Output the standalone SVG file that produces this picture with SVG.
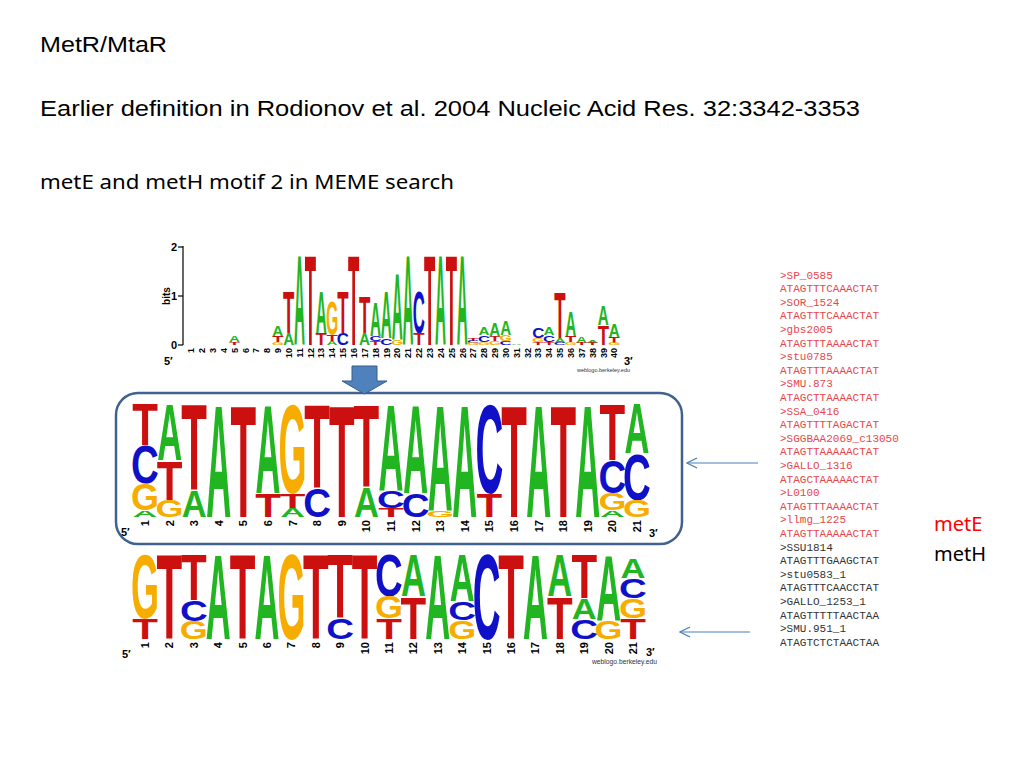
<svg xmlns="http://www.w3.org/2000/svg" width="1024" height="768" viewBox="0 0 1024 768">
<style>
.bg{fill:#ffffff}
.ttl{font-family:"Liberation Sans",Arial,sans-serif;font-size:22px;fill:#000}
.sub{font-family:"Noto Sans","Open Sans",sans-serif;font-size:20px;fill:#000}
.lg text{font-family:"Liberation Sans",Arial,sans-serif;font-weight:bold;font-size:100px;text-anchor:middle}
.a{fill:#22b522}
.t{fill:#cc0f0f}
.c{fill:#1010c8}
.g{fill:#f7ad00}
.num{font-family:"Liberation Sans",Arial,sans-serif;font-weight:bold;fill:#000;text-anchor:end}
.n9{font-size:9px}
.n11{font-size:11px}
.end{font-family:"Liberation Sans",Arial,sans-serif;font-weight:bold;font-size:11px;fill:#000}
.wl{font-family:"Liberation Sans",Arial,sans-serif;font-size:6px;fill:#333}
.seq{font-family:"Liberation Mono","Courier New",monospace;font-size:11px}
.red{fill:#e8464b}
.blk{fill:#333333}
.lbl{font-family:"Noto Sans","Open Sans",sans-serif;font-size:20px}
.conn{stroke:#4a7ebb;stroke-width:1.2;fill:none}
</style>
<defs>
<marker id="ah" viewBox="0 0 12 12" refX="11" refY="6" markerWidth="12" markerHeight="12" markerUnits="userSpaceOnUse" orient="auto">
<path d="M1,1 L11,6 L1,11" fill="none" stroke="#4a7ebb" stroke-width="1.2"/>
</marker>
</defs>
<rect class="bg" x="0" y="0" width="1024" height="768"/>

<g id="title">
<text class="ttl" x="40" y="52" textLength="127" lengthAdjust="spacingAndGlyphs">MetR/MtaR</text>
<text class="ttl" x="40" y="116" textLength="820" lengthAdjust="spacingAndGlyphs">Earlier definition in Rodionov et al. 2004 Nucleic Acid Res. 32:3342-3353</text>
<text class="sub" x="40" y="189" textLength="414" lengthAdjust="spacingAndGlyphs">metE and metH motif 2 in MEME search</text>
</g>

<g id="logo-all">
<line x1="183" y1="246" x2="183" y2="345" stroke="#000" stroke-width="1.2"/>
<line x1="178" y1="247" x2="183" y2="247" stroke="#000" stroke-width="1.2"/>
<line x1="178" y1="296" x2="183" y2="296" stroke="#000" stroke-width="1.2"/>
<line x1="178" y1="345" x2="183" y2="345" stroke="#000" stroke-width="1.2"/>
<text class="num n11" x="177" y="251">2</text>
<text class="num n11" x="177" y="300">1</text>
<text class="num n11" x="177" y="349">0</text>
<text class="end" style="font-size:10px;text-anchor:middle" transform="translate(170,296) rotate(-90)">bits</text>
<text class="end" x="164" y="365">5′</text>
<text class="end" x="624" y="365">3′</text>
<text class="wl" x="577" y="372" textLength="53" lengthAdjust="spacingAndGlyphs">weblogo.berkeley.edu</text>
<g class="num n9">
<text transform="translate(194.2,348) rotate(-90)">1</text>
<text transform="translate(205.0,348) rotate(-90)">2</text>
<text transform="translate(215.9,348) rotate(-90)">3</text>
<text transform="translate(226.8,348) rotate(-90)">4</text>
<text transform="translate(237.6,348) rotate(-90)">5</text>
<text transform="translate(248.5,348) rotate(-90)">6</text>
<text transform="translate(259.3,348) rotate(-90)">7</text>
<text transform="translate(270.2,348) rotate(-90)">8</text>
<text transform="translate(281.0,348) rotate(-90)">9</text>
<text transform="translate(291.9,348) rotate(-90)">10</text>
<text transform="translate(302.7,348) rotate(-90)">11</text>
<text transform="translate(313.6,348) rotate(-90)">12</text>
<text transform="translate(324.4,348) rotate(-90)">13</text>
<text transform="translate(335.3,348) rotate(-90)">14</text>
<text transform="translate(346.1,348) rotate(-90)">15</text>
<text transform="translate(357.0,348) rotate(-90)">16</text>
<text transform="translate(367.8,348) rotate(-90)">17</text>
<text transform="translate(378.7,348) rotate(-90)">18</text>
<text transform="translate(389.5,348) rotate(-90)">19</text>
<text transform="translate(400.4,348) rotate(-90)">20</text>
<text transform="translate(411.2,348) rotate(-90)">21</text>
<text transform="translate(422.1,348) rotate(-90)">22</text>
<text transform="translate(432.9,348) rotate(-90)">23</text>
<text transform="translate(443.8,348) rotate(-90)">24</text>
<text transform="translate(454.6,348) rotate(-90)">25</text>
<text transform="translate(465.5,348) rotate(-90)">26</text>
<text transform="translate(476.3,348) rotate(-90)">27</text>
<text transform="translate(487.2,348) rotate(-90)">28</text>
<text transform="translate(498.0,348) rotate(-90)">29</text>
<text transform="translate(508.9,348) rotate(-90)">30</text>
<text transform="translate(519.7,348) rotate(-90)">31</text>
<text transform="translate(530.6,348) rotate(-90)">32</text>
<text transform="translate(541.4,348) rotate(-90)">33</text>
<text transform="translate(552.3,348) rotate(-90)">34</text>
<text transform="translate(563.1,348) rotate(-90)">35</text>
<text transform="translate(574.0,348) rotate(-90)">36</text>
<text transform="translate(584.8,348) rotate(-90)">37</text>
<text transform="translate(595.7,348) rotate(-90)">38</text>
<text transform="translate(606.5,348) rotate(-90)">39</text>
<text transform="translate(617.4,348) rotate(-90)">40</text>
</g>
<g class="lg">
<text class="a" transform="translate(234.4,342) scale(0.152,0.098)">A</text>
<text class="t" transform="translate(234.4,345) scale(0.185,0.042)">T</text>
<text class="a" transform="translate(277.8,336) scale(0.152,0.154)">A</text>
<text class="t" transform="translate(277.8,342) scale(0.185,0.084)">T</text>
<text class="g" transform="translate(277.8,345) scale(0.158,0.042)">G</text>
<text class="t" transform="translate(288.65,333) scale(0.185,0.587)">T</text>
<text class="a" transform="translate(288.65,345) scale(0.152,0.168)">A</text>
<text class="a" transform="translate(299.5,345) scale(0.152,1.285)">A</text>
<text class="t" transform="translate(310.35,345) scale(0.185,1.285)">T</text>
<text class="a" transform="translate(321.2,333) scale(0.152,0.601)">A</text>
<text class="t" transform="translate(321.2,345) scale(0.185,0.168)">T</text>
<text class="g" transform="translate(332.05,335) scale(0.158,0.489)">G</text>
<text class="t" transform="translate(332.05,341) scale(0.185,0.084)">T</text>
<text class="a" transform="translate(332.05,345) scale(0.152,0.056)">A</text>
<text class="t" transform="translate(342.9,333) scale(0.185,0.601)">T</text>
<text class="c" transform="translate(342.9,345) scale(0.168,0.168)">C</text>
<text class="t" transform="translate(353.75,345) scale(0.185,1.285)">T</text>
<text class="t" transform="translate(364.6,333) scale(0.185,0.517)">T</text>
<text class="a" transform="translate(364.6,345) scale(0.152,0.168)">A</text>
<text class="a" transform="translate(375.45,336) scale(0.152,0.489)">A</text>
<text class="c" transform="translate(375.45,341) scale(0.168,0.070)">C</text>
<text class="t" transform="translate(375.45,345) scale(0.185,0.056)">T</text>
<text class="a" transform="translate(386.3,338) scale(0.152,0.670)">A</text>
<text class="c" transform="translate(386.3,345) scale(0.168,0.098)">C</text>
<text class="a" transform="translate(397.15,340) scale(0.152,0.950)">A</text>
<text class="g" transform="translate(397.15,345) scale(0.158,0.070)">G</text>
<text class="a" transform="translate(408,345) scale(0.152,1.285)">A</text>
<text class="c" transform="translate(418.85,333) scale(0.168,0.601)">C</text>
<text class="t" transform="translate(418.85,345) scale(0.185,0.168)">T</text>
<text class="t" transform="translate(429.7,345) scale(0.185,1.285)">T</text>
<text class="a" transform="translate(440.55,345) scale(0.152,1.285)">A</text>
<text class="t" transform="translate(451.4,345) scale(0.185,1.285)">T</text>
<text class="a" transform="translate(462.25,345) scale(0.152,1.285)">A</text>
<text class="t" transform="translate(473.1,341) scale(0.185,0.042)">T</text>
<text class="c" transform="translate(473.1,343) scale(0.168,0.028)">C</text>
<text class="g" transform="translate(473.1,345) scale(0.158,0.028)">G</text>
<text class="a" transform="translate(483.95,335) scale(0.152,0.112)">A</text>
<text class="c" transform="translate(483.95,342) scale(0.168,0.098)">C</text>
<text class="g" transform="translate(483.95,345) scale(0.158,0.042)">G</text>
<text class="a" transform="translate(494.8,336) scale(0.152,0.182)">A</text>
<text class="t" transform="translate(494.8,341) scale(0.185,0.070)">T</text>
<text class="g" transform="translate(494.8,345) scale(0.158,0.056)">G</text>
<text class="a" transform="translate(505.65,335) scale(0.152,0.209)">A</text>
<text class="g" transform="translate(505.65,341) scale(0.158,0.084)">G</text>
<text class="c" transform="translate(505.65,345) scale(0.168,0.056)">C</text>
<text class="a" transform="translate(516.5,345) scale(0.152,0.014)">A</text>
<text class="c" transform="translate(538.2,338) scale(0.168,0.154)">C</text>
<text class="g" transform="translate(538.2,342) scale(0.158,0.056)">G</text>
<text class="t" transform="translate(538.2,345) scale(0.185,0.042)">T</text>
<text class="a" transform="translate(549.05,335) scale(0.152,0.112)">A</text>
<text class="c" transform="translate(549.05,342) scale(0.168,0.098)">C</text>
<text class="t" transform="translate(549.05,345) scale(0.185,0.042)">T</text>
<text class="t" transform="translate(559.9,338) scale(0.185,0.642)">T</text>
<text class="a" transform="translate(559.9,343) scale(0.152,0.070)">A</text>
<text class="c" transform="translate(559.9,345) scale(0.168,0.028)">C</text>
<text class="a" transform="translate(570.75,336) scale(0.152,0.349)">A</text>
<text class="t" transform="translate(570.75,342) scale(0.185,0.084)">T</text>
<text class="g" transform="translate(570.75,345) scale(0.158,0.042)">G</text>
<text class="a" transform="translate(581.6,343) scale(0.152,0.098)">A</text>
<text class="t" transform="translate(581.6,345) scale(0.185,0.028)">T</text>
<text class="a" transform="translate(592.45,343) scale(0.152,0.028)">A</text>
<text class="t" transform="translate(592.45,345) scale(0.185,0.028)">T</text>
<text class="a" transform="translate(603.3,325) scale(0.152,0.279)">A</text>
<text class="t" transform="translate(603.3,345) scale(0.185,0.279)">T</text>
<text class="a" transform="translate(614.15,337) scale(0.152,0.182)">A</text>
<text class="t" transform="translate(614.15,343) scale(0.185,0.084)">T</text>
<text class="g" transform="translate(614.15,345) scale(0.158,0.028)">G</text>
</g>
</g>

<g id="logo-metE">
<rect x="116" y="393" width="566" height="151" rx="22" ry="22" fill="none" stroke="#41628f" stroke-width="2.5"/>
<text class="end" x="121" y="536">5′</text>
<text class="end" x="649" y="537">3′</text>
<g class="num n11">
<text transform="translate(149,520) rotate(-90)">1</text>
<text transform="translate(173.6,520) rotate(-90)">2</text>
<text transform="translate(198.2,520) rotate(-90)">3</text>
<text transform="translate(222.8,520) rotate(-90)">4</text>
<text transform="translate(247.4,520) rotate(-90)">5</text>
<text transform="translate(272,520) rotate(-90)">6</text>
<text transform="translate(296.6,520) rotate(-90)">7</text>
<text transform="translate(321.2,520) rotate(-90)">8</text>
<text transform="translate(345.8,520) rotate(-90)">9</text>
<text transform="translate(370.4,520) rotate(-90)">10</text>
<text transform="translate(395,520) rotate(-90)">11</text>
<text transform="translate(419.6,520) rotate(-90)">12</text>
<text transform="translate(444.2,520) rotate(-90)">13</text>
<text transform="translate(468.8,520) rotate(-90)">14</text>
<text transform="translate(493.4,520) rotate(-90)">15</text>
<text transform="translate(518,520) rotate(-90)">16</text>
<text transform="translate(542.6,520) rotate(-90)">17</text>
<text transform="translate(567.2,520) rotate(-90)">18</text>
<text transform="translate(591.8,520) rotate(-90)">19</text>
<text transform="translate(616.4,520) rotate(-90)">20</text>
<text transform="translate(641,520) rotate(-90)">21</text>
</g>
<g class="lg">
<text class="t" transform="translate(145,445) scale(0.42,0.587)">T</text>
<text class="c" transform="translate(145,483) scale(0.385,0.531)">C</text>
<text class="g" transform="translate(145,510) scale(0.36,0.377)">G</text>
<text class="a" transform="translate(145,517) scale(0.345,0.098)">A</text>
<text class="a" transform="translate(169.6,460) scale(0.345,0.796)">A</text>
<text class="t" transform="translate(169.6,500) scale(0.42,0.559)">T</text>
<text class="g" transform="translate(169.6,517) scale(0.36,0.237)">G</text>
<text class="t" transform="translate(194.2,490) scale(0.42,1.215)">T</text>
<text class="a" transform="translate(194.2,517) scale(0.345,0.377)">A</text>
<text class="a" transform="translate(218.8,517) scale(0.345,1.592)">A</text>
<text class="t" transform="translate(243.4,517) scale(0.42,1.592)">T</text>
<text class="a" transform="translate(268,493) scale(0.345,1.257)">A</text>
<text class="t" transform="translate(268,517) scale(0.42,0.335)">T</text>
<text class="g" transform="translate(292.6,493) scale(0.36,1.257)">G</text>
<text class="t" transform="translate(292.6,508) scale(0.42,0.209)">T</text>
<text class="a" transform="translate(292.6,517) scale(0.345,0.126)">A</text>
<text class="t" transform="translate(317.2,488) scale(0.42,1.187)">T</text>
<text class="c" transform="translate(317.2,517) scale(0.385,0.405)">C</text>
<text class="t" transform="translate(341.8,517) scale(0.42,1.592)">T</text>
<text class="t" transform="translate(366.4,487) scale(0.42,1.173)">T</text>
<text class="a" transform="translate(366.4,517) scale(0.345,0.419)">A</text>
<text class="a" transform="translate(391,491) scale(0.345,1.229)">A</text>
<text class="c" transform="translate(391,508) scale(0.385,0.237)">C</text>
<text class="t" transform="translate(391,517) scale(0.42,0.126)">T</text>
<text class="a" transform="translate(415.6,493) scale(0.345,1.257)">A</text>
<text class="c" transform="translate(415.6,517) scale(0.385,0.335)">C</text>
<text class="a" transform="translate(440.2,510) scale(0.345,1.494)">A</text>
<text class="g" transform="translate(440.2,517) scale(0.36,0.098)">G</text>
<text class="a" transform="translate(464.8,517) scale(0.345,1.592)">A</text>
<text class="c" transform="translate(489.4,493) scale(0.385,1.257)">C</text>
<text class="t" transform="translate(489.4,517) scale(0.42,0.335)">T</text>
<text class="t" transform="translate(514,517) scale(0.42,1.592)">T</text>
<text class="a" transform="translate(538.6,517) scale(0.345,1.592)">A</text>
<text class="t" transform="translate(563.2,517) scale(0.42,1.592)">T</text>
<text class="a" transform="translate(587.8,517) scale(0.345,1.592)">A</text>
<text class="t" transform="translate(612.4,460) scale(0.42,0.796)">T</text>
<text class="c" transform="translate(612.4,493) scale(0.385,0.461)">C</text>
<text class="g" transform="translate(612.4,510) scale(0.36,0.237)">G</text>
<text class="a" transform="translate(612.4,517) scale(0.345,0.098)">A</text>
<text class="a" transform="translate(637,453) scale(0.345,0.698)">A</text>
<text class="c" transform="translate(637,500) scale(0.385,0.656)">C</text>
<text class="g" transform="translate(637,517) scale(0.36,0.237)">G</text>
</g>
</g>

<g id="logo-metH">
<text class="end" x="122" y="658">5′</text>
<text class="end" x="646" y="656">3′</text>
<text class="wl" style="font-size:7px" x="592" y="664" textLength="65" lengthAdjust="spacingAndGlyphs">weblogo.berkeley.edu</text>
<g class="num n11">
<text transform="translate(149,642) rotate(-90)">1</text>
<text transform="translate(173.4,642) rotate(-90)">2</text>
<text transform="translate(197.8,642) rotate(-90)">3</text>
<text transform="translate(222.2,642) rotate(-90)">4</text>
<text transform="translate(246.6,642) rotate(-90)">5</text>
<text transform="translate(271,642) rotate(-90)">6</text>
<text transform="translate(295.4,642) rotate(-90)">7</text>
<text transform="translate(319.8,642) rotate(-90)">8</text>
<text transform="translate(344.2,642) rotate(-90)">9</text>
<text transform="translate(368.6,642) rotate(-90)">10</text>
<text transform="translate(393,642) rotate(-90)">11</text>
<text transform="translate(417.4,642) rotate(-90)">12</text>
<text transform="translate(441.8,642) rotate(-90)">13</text>
<text transform="translate(466.2,642) rotate(-90)">14</text>
<text transform="translate(490.6,642) rotate(-90)">15</text>
<text transform="translate(515,642) rotate(-90)">16</text>
<text transform="translate(539.4,642) rotate(-90)">17</text>
<text transform="translate(563.8,642) rotate(-90)">18</text>
<text transform="translate(588.2,642) rotate(-90)">19</text>
<text transform="translate(612.6,642) rotate(-90)">20</text>
<text transform="translate(637,642) rotate(-90)">21</text>
</g>
<g class="lg">
<text class="g" transform="translate(145,618) scale(0.36,0.908)">G</text>
<text class="t" transform="translate(145,639) scale(0.42,0.293)">T</text>
<text class="t" transform="translate(169.4,639) scale(0.42,1.201)">T</text>
<text class="t" transform="translate(193.8,600) scale(0.42,0.656)">T</text>
<text class="c" transform="translate(193.8,621) scale(0.385,0.293)">C</text>
<text class="g" transform="translate(193.8,639) scale(0.36,0.251)">G</text>
<text class="a" transform="translate(218.2,639) scale(0.345,1.201)">A</text>
<text class="t" transform="translate(242.6,639) scale(0.42,1.201)">T</text>
<text class="a" transform="translate(267,639) scale(0.345,1.201)">A</text>
<text class="g" transform="translate(291.4,639) scale(0.36,1.201)">G</text>
<text class="t" transform="translate(315.8,639) scale(0.42,1.201)">T</text>
<text class="t" transform="translate(340.2,618) scale(0.42,0.908)">T</text>
<text class="c" transform="translate(340.2,639) scale(0.385,0.293)">C</text>
<text class="t" transform="translate(364.6,639) scale(0.42,1.201)">T</text>
<text class="c" transform="translate(389,596) scale(0.385,0.601)">C</text>
<text class="g" transform="translate(389,618) scale(0.36,0.307)">G</text>
<text class="t" transform="translate(389,639) scale(0.42,0.293)">T</text>
<text class="a" transform="translate(413.4,596) scale(0.345,0.601)">A</text>
<text class="t" transform="translate(413.4,639) scale(0.42,0.601)">T</text>
<text class="a" transform="translate(437.8,639) scale(0.345,1.201)">A</text>
<text class="a" transform="translate(462.2,601) scale(0.345,0.670)">A</text>
<text class="c" transform="translate(462.2,620) scale(0.385,0.265)">C</text>
<text class="g" transform="translate(462.2,639) scale(0.36,0.265)">G</text>
<text class="c" transform="translate(486.6,639) scale(0.385,1.201)">C</text>
<text class="t" transform="translate(511,639) scale(0.42,1.201)">T</text>
<text class="a" transform="translate(535.4,639) scale(0.345,1.201)">A</text>
<text class="a" transform="translate(559.8,596) scale(0.345,0.601)">A</text>
<text class="t" transform="translate(559.8,639) scale(0.42,0.601)">T</text>
<text class="t" transform="translate(584.2,598) scale(0.42,0.628)">T</text>
<text class="a" transform="translate(584.2,619) scale(0.345,0.293)">A</text>
<text class="c" transform="translate(584.2,639) scale(0.385,0.279)">C</text>
<text class="a" transform="translate(608.6,620) scale(0.345,0.936)">A</text>
<text class="g" transform="translate(608.6,639) scale(0.36,0.265)">G</text>
<text class="a" transform="translate(633,578) scale(0.345,0.279)">A</text>
<text class="c" transform="translate(633,598) scale(0.385,0.279)">C</text>
<text class="g" transform="translate(633,618) scale(0.36,0.279)">G</text>
<text class="t" transform="translate(633,639) scale(0.42,0.293)">T</text>
</g>
</g>

<g id="sequences" class="seq">
<text class="red" x="780" y="278.5">&gt;SP_0585</text>
<text class="red" x="780" y="292.1">ATAGTTTCAAACTAT</text>
<text class="red" x="780" y="305.7">&gt;SOR_1524</text>
<text class="red" x="780" y="319.3">ATAGTTTCAAACTAT</text>
<text class="red" x="780" y="332.9">&gt;gbs2005</text>
<text class="red" x="780" y="346.5">ATAGTTTAAAACTAT</text>
<text class="red" x="780" y="360.1">&gt;stu0785</text>
<text class="red" x="780" y="373.7">ATAGTTTAAAACTAT</text>
<text class="red" x="780" y="387.3">&gt;SMU.873</text>
<text class="red" x="780" y="400.9">ATAGCTTAAAACTAT</text>
<text class="red" x="780" y="414.5">&gt;SSA_0416</text>
<text class="red" x="780" y="428.1">ATAGTTTTAGACTAT</text>
<text class="red" x="780" y="441.7">&gt;SGGBAA2069_c13050</text>
<text class="red" x="780" y="455.3">ATAGTTAAAAACTAT</text>
<text class="red" x="780" y="468.9">&gt;GALLO_1316</text>
<text class="red" x="780" y="482.5">ATAGCTAAAAACTAT</text>
<text class="red" x="780" y="496.1">&gt;L0100</text>
<text class="red" x="780" y="509.7">ATAGTTTAAAACTAT</text>
<text class="red" x="780" y="523.3">&gt;llmg_1225</text>
<text class="red" x="780" y="536.9">ATAGTTAAAAACTAT</text>
<text class="blk" x="780" y="550.5">&gt;SSU1814</text>
<text class="blk" x="780" y="564.1">ATAGTTTGAAGCTAT</text>
<text class="blk" x="780" y="577.7">&gt;stu0583_1</text>
<text class="blk" x="780" y="591.3">ATAGTTTCAACCTAT</text>
<text class="blk" x="780" y="604.9">&gt;GALLO_1253_1</text>
<text class="blk" x="780" y="618.5">ATAGTTTTTAACTAA</text>
<text class="blk" x="780" y="632.1">&gt;SMU.951_1</text>
<text class="blk" x="780" y="645.7">ATAGTCTCTAACTAA</text>
</g>

<g id="legend">
<text class="lbl" x="934" y="531" fill="#ff0000">metE</text>
<text class="lbl" x="934" y="561" fill="#000000">metH</text>
</g>

<g id="connectors">
<path d="M352,366 H377 V381 H387 L364.5,394 L342,381 H352 Z" fill="#4f81bd" stroke="#385d8a" stroke-width="1"/>
<line class="conn" x1="758" y1="463" x2="687" y2="463" marker-end="url(#ah)"/>
<line class="conn" x1="750" y1="632" x2="680" y2="632" marker-end="url(#ah)"/>
</g>
</svg>
